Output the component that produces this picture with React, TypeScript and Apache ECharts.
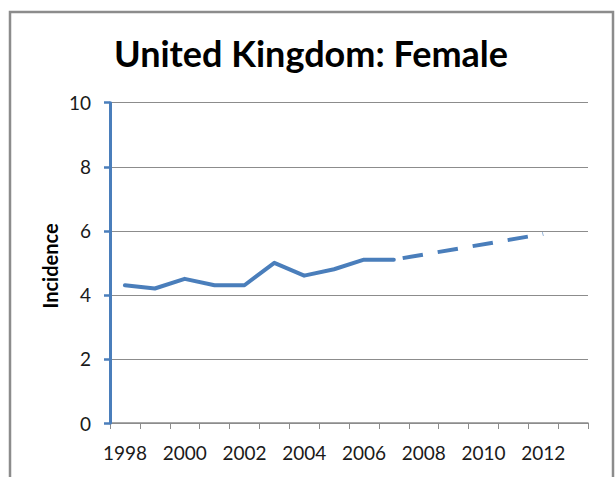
import React, { useEffect, useRef } from "react";
import * as echarts from "echarts";

const years: string[] = [
  "1998", "1999", "2000", "2001", "2002", "2003", "2004", "2005",
  "2006", "2007", "2008", "2009", "2010", "2011", "2012", "2013",
];
const observed: (number | null)[] = [
  4.3, 4.2, 4.5, 4.3, 4.3, 5.0, 4.6, 4.8, 5.1, 5.1,
  null, null, null, null, null, null,
];
const projected: (number | null)[] = [
  null, null, null, null, null, null, null, null, null, 5.1,
  null, null, null, null, 5.9, null,
];
const titleText = "United Kingdom: Female";
const yAxisTitle = "Incidence";
const yMin = 0;
const yMax = 10;
const yStep = 2;

const BLUE = "#4A7EBB";
const GRAY = "#8C8C8C";
const FONT = "Lato";

export default function App() {
  const ref = useRef<HTMLDivElement>(null);
  useEffect(() => {
    if (!ref.current) return;
    const chart = echarts.init(ref.current, undefined, { renderer: "svg" });
    chart.setOption({
      animation: false,
      backgroundColor: "#ffffff",
      grid: { left: 110, right: 28, top: 102.7, bottom: 54, containLabel: false },
      graphic: [
        {
          type: "rect",
          shape: { x: 10, y: 12, width: 603, height: 520 },
          style: { fill: "none", stroke: GRAY, lineWidth: 2.5 },
          silent: true,
        },
        {
          type: "text",
          x: 311,
          y: 52.6,
          style: {
            text: titleText,
            fontFamily: FONT,
            fontWeight: "bold",
            fontSize: 36,
            fill: "#000000",
            align: "center",
            verticalAlign: "middle",
          },
        },
        {
          type: "text",
          x: 50,
          y: 266,
          rotation: Math.PI / 2,
          style: {
            text: yAxisTitle,
            fontFamily: FONT,
            fontWeight: "bold",
            fontSize: 20,
            fill: "#000000",
            align: "center",
            verticalAlign: "middle",
          },
        },
      ],
      xAxis: {
        type: "category",
        data: years,
        boundaryGap: true,
        axisLine: { show: true, lineStyle: { color: GRAY, width: 1.5 } },
        axisTick: { show: true, interval: 0, length: 6, lineStyle: { color: GRAY, width: 1 } },
        axisLabel: {
          interval: 1,
          margin: 20,
          fontFamily: FONT,
          fontSize: 19,
          color: "#1a1a1a",
        },
        splitLine: { show: false },
      },
      yAxis: {
        type: "value",
        min: yMin,
        max: yMax,
        interval: yStep,
        axisLine: { show: true, lineStyle: { color: BLUE, width: 3 } },
        axisTick: { show: true, length: 6, lineStyle: { color: BLUE, width: 2.5 } },
        axisLabel: {
          margin: 19,
          fontFamily: FONT,
          fontSize: 19,
          color: "#1a1a1a",
        },
        splitLine: { show: true, lineStyle: { color: GRAY, width: 1 } },
        z: 5,
      },
      series: [
        {
          type: "line",
          data: observed,
          showSymbol: false,
          symbol: "none",
          lineStyle: { color: BLUE, width: 4, cap: "round", join: "round" },
          z: 3,
        },
        {
          type: "line",
          data: projected,
          connectNulls: true,
          showSymbol: false,
          symbol: "none",
          lineStyle: {
            color: BLUE,
            width: 4,
            type: [0, 9, 20.5, 6],
            cap: "butt",
          },
          z: 3,
        },
      ],
    });
    return () => chart.dispose();
  }, []);
  return <div ref={ref} style={{ width: 616, height: 477, position: "absolute", left: 0, top: 0 }} />;
}
